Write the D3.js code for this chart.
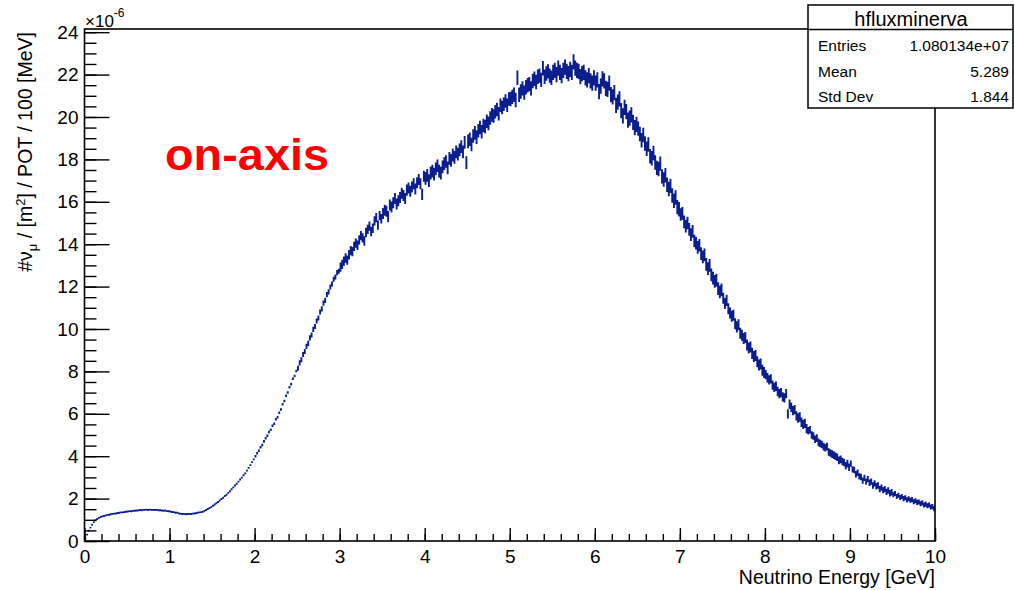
<!DOCTYPE html>
<html><head><meta charset="utf-8">
<script src="https://cdn.jsdelivr.net/npm/d3@7"></script>
<style>
body{margin:0;background:#fff;}
svg{display:block;font-family:"Liberation Sans",Arial,Helvetica,sans-serif;}
</style>
</head><body>
<svg id="chart" width="1015" height="590"></svg>
<script>
// ---- data ----
const xDomain = [0, 10];          // Neutrino energy [GeV]
const yDomain = [0, 24.15];       // x 1e-6
const binWidth = 0.02;            // GeV per bin (500 bins)
const fluxValues = [
// 0-1 GeV
0.12,0.30,0.48,0.63,0.77, 0.89,0.98,1.04,1.09,1.13, 1.16,1.18,1.21,1.23,1.24, 1.26,1.28,1.29,1.30,1.32, 1.33,1.35,1.35,1.37,1.38,
1.39,1.41,1.40,1.42,1.43, 1.44,1.44,1.46,1.45,1.47, 1.47,1.48,1.46,1.48,1.47, 1.47,1.46,1.47,1.45,1.45, 1.44,1.43,1.44,1.41,1.40,
// 1-2 GeV
1.39,1.37,1.36,1.33,1.34, 1.30,1.29,1.27,1.28,1.26, 1.27,1.28,1.27,1.29,1.30, 1.31,1.33,1.35,1.36,1.38, 1.42,1.46,1.51,1.55,1.60,
1.66,1.72,1.78,1.84,1.91, 1.98,2.04,2.12,2.18,2.27, 2.35,2.44,2.53,2.62,2.70, 2.80,2.90,2.99,3.10,3.19, 3.32,3.45,3.58,3.72,3.85,
// 2-3 GeV
4.00,4.14,4.26,4.42,4.53, 4.70,4.85,4.96,5.14,5.25, 5.44,5.53,5.74,5.84,6.05, 6.20,6.45,6.60,6.85,7.00, 7.25,7.40,7.65,7.78,8.02,
8.15,8.40,8.55,8.80,8.94, 9.18,9.32,9.58,9.72,9.98, 10.12,10.38,10.52,10.80,10.95, 11.22,11.35,11.62,11.75,11.98, 12.12,12.35,12.45,12.66,12.72,
// 3-4 GeV
12.92,13.05,13.20,13.35,13.25, 13.50,13.70,13.65,13.90,14.05, 13.95,14.20,14.40,14.30,14.15, 14.55,14.70,14.85,14.60,14.75, 15.10,15.25,14.90,15.35,15.20,
15.45,15.60,15.55,15.30,15.85, 15.75,15.95,16.15,15.90,16.05, 16.20,16.40,16.30,16.15,16.55, 16.65,16.50,16.70,16.85,16.60, 16.90,17.05,16.85,16.35,17.20,
// 4-5 GeV
17.10,17.25,17.00,17.35,17.45, 17.30,17.55,17.70,17.45,17.35, 17.65,17.80,17.90,17.60,18.05, 17.95,18.20,18.10,18.35,18.25, 18.45,18.60,18.35,18.80,17.85,
18.85,18.95,18.70,19.10,19.25, 19.05,19.35,19.50,19.30,19.60, 19.55,19.80,19.70,19.95,20.10, 20.05,20.25,20.35,20.15,20.55, 20.45,20.60,20.75,20.55,20.85,
// 5-6 GeV
20.85,20.95,21.05,20.80,21.85, 21.05,21.20,21.35,21.15,21.40, 21.50,21.55,21.35,21.70,21.80, 21.65,21.90,21.95,21.75,22.30, 21.90,22.05,22.15,21.95,21.85,
22.10,22.20,22.00,22.30,22.10, 21.95,22.20,22.35,22.15,22.05, 22.25,22.10,22.60,22.30,22.20, 22.15,21.90,22.05,22.10,21.85, 21.75,21.95,21.70,21.60,21.85,
// 6-7 GeV
21.60,21.75,21.20,21.45,21.80, 21.70,21.35,21.30,21.60,21.05, 20.95,21.15,20.55,20.70,20.85, 20.30,20.05,20.45,20.25,19.85, 19.95,20.10,19.75,19.50,19.65,
19.45,19.20,18.90,19.15,18.75, 18.50,18.70,18.15,18.05,18.30, 17.85,17.60,17.55,17.80,17.20, 17.05,17.25,16.80,16.60,16.75, 16.30,16.05,16.20,15.75,15.65,
// 7-8 GeV
15.40,15.45,15.05,14.85,15.00, 14.70,14.45,14.60,14.15,14.05, 13.85,13.95,13.55,13.40,13.50, 13.05,12.85,13.00,12.55,12.40, 12.25,12.30,11.90,11.75,11.85,
11.45,11.20,11.35,10.95,10.75, 10.60,10.65,10.25,10.10,10.20, 9.80,9.70,9.55,9.60,9.25, 9.10,9.15,8.85,8.70,8.75, 8.45,8.30,8.35,8.05,7.95,
// 8-9 GeV
7.85,7.70,7.60,7.65,7.35, 7.25,7.30,7.05,6.95,7.00, 6.80,6.75,6.95,6.00,6.45, 6.30,6.15,6.20,5.90,5.80, 5.85,5.60,5.50,5.55,5.30,
5.20,5.25,5.00,4.95,4.80, 4.85,4.65,4.60,4.55,4.45, 4.40,4.45,4.20,4.15,4.10, 4.05,4.00,3.95,3.80,3.85, 3.75,3.70,3.55,3.65,3.48,
// 9-10 GeV
3.65,3.38,3.35,3.15,3.22, 3.05,3.02,2.85,2.98,2.80, 2.92,2.75,2.80,2.62,2.72, 2.58,2.62,2.45,2.52,2.40, 2.45,2.32,2.38,2.25,2.30,
2.18,2.24,2.10,2.16,2.05, 2.10,2.00,2.04,1.94,1.99, 1.92,1.95,1.85,1.90,1.82, 1.84,1.76,1.80,1.70,1.74, 1.66,1.70,1.60,1.62,1.52
];
// half-length of the error bars, one value per 0.5 GeV slice
const errorSliceWidth = 0.5;
const errorHalf = [0.02,0.02,0.03,0.04,0.06,0.12,0.22,0.26,0.30,0.32,0.34,0.36,0.36,0.34,0.30,0.26,0.22,0.18,0.15,0.12];

const xMajorTicks = [0,1,2,3,4,5,6,7,8,9,10];
const xTickLabels = ["0","1","2","3","4","5","6","7","8","9","10"];
const yMajorTicks = [0,2,4,6,8,10,12,14,16,18,20,22,24];
const yTickLabels = ["0","2","4","6","8","10","12","14","16","18","20","22","24"];
const statsTitle = "hfluxminerva";
const statsNames = ["Entries","Mean","Std Dev"];
const statsValues = ["1.080134e+07","5.289","1.844"];

// ---- drawing ----
const svg = d3.select("#chart");
const x = d3.scaleLinear().domain(xDomain).range([84.5, 935]);
const y = d3.scaleLinear().domain(yDomain).range([541, 29]);
const dataColor = "#0b1e8e";

// histogram with error bars
let p = "";
fluxValues.forEach((v, i) => {
  const lo = i * binWidth, hi = (i + 1) * binWidth, c = lo + binWidth / 2;
  const e = errorHalf[Math.min(errorHalf.length - 1, Math.floor(c / errorSliceWidth))];
  p += `M${x(lo)},${y(v)}H${x(hi)}M${x(c)},${y(v + e)}V${y(Math.max(0, v - e))}`;
});
svg.append("path").attr("d", p).attr("fill", "none")
  .attr("stroke", dataColor).attr("stroke-width", 1.9);

// axes
const xMinor = d3.range(0, 10.0001, 0.2);
const yMinor = d3.range(0, 24.0001, 0.5);
const styleAxis = g => {
  g.select(".domain").remove();
  g.selectAll("line").attr("stroke", "#000").attr("stroke-width", 1.4);
  g.selectAll("text").attr("fill", "#000").style("font-size", "19px")
    .style("font-family", '"Liberation Sans", Arial, sans-serif');
};
svg.append("g").attr("transform", "translate(0,541)")
  .call(d3.axisBottom(x).tickValues(xMinor).tickSize(-7).tickFormat(""))
  .call(styleAxis);
svg.append("g").attr("transform", "translate(0,541)")
  .call(d3.axisBottom(x).tickValues(xMajorTicks).tickSize(-13).tickPadding(9)
    .tickFormat((d, i) => xTickLabels[i]))
  .call(styleAxis);
svg.append("g").attr("transform", "translate(84.5,0)")
  .call(d3.axisLeft(y).tickValues(yMinor).tickSize(-12).tickFormat(""))
  .call(styleAxis);
svg.append("g").attr("transform", "translate(84.5,0)")
  .call(d3.axisLeft(y).tickValues(yMajorTicks).tickSize(-25).tickPadding(6)
    .tickFormat((d, i) => yTickLabels[i]))
  .call(styleAxis);

// frame
svg.append("rect").attr("x", x(0)).attr("y", y(yDomain[1]))
  .attr("width", x(10) - x(0)).attr("height", y(0) - y(yDomain[1]))
  .attr("fill", "none").attr("stroke", "#000").attr("stroke-width", 1.6);

// exponent label
const ex = svg.append("text").attr("x", 85).attr("y", 27).attr("fill", "#000").style("font-size", "17px");
ex.append("tspan").text("\u00d710");
ex.append("tspan").attr("dy", -10).style("font-size", "12px").text("-6");

// y-axis title
const yt = svg.append("text").attr("transform", "translate(32,32) rotate(-90)")
  .attr("text-anchor", "end").attr("fill", "#000").style("font-size", "19.5px");
yt.append("tspan").text("#\u03bd");
yt.append("tspan").attr("dy", 5).style("font-size", "13px").text("\u03bc");
yt.append("tspan").attr("dy", -5).text(" / [m");
yt.append("tspan").attr("dy", -7).style("font-size", "13px").text("2");
yt.append("tspan").attr("dy", 7).text("] / POT / 100 [MeV]");

// x-axis title
svg.append("text").attr("x", 935).attr("y", 584).attr("text-anchor", "end")
  .attr("fill", "#000").style("font-size", "19.5px").text("Neutrino Energy [GeV]");

// on-axis label
svg.append("text").attr("x", 165).attr("y", 170).attr("fill", "#ff0000")
  .style("font-size", "44px").style("font-weight", "bold")
  .attr("textLength", 164).attr("lengthAdjust", "spacingAndGlyphs").text("on-axis");

// stats box
const sb = svg.append("g");
sb.append("rect").attr("x", 808).attr("y", 5).attr("width", 205).attr("height", 103)
  .attr("fill", "#fff").attr("stroke", "#000").attr("stroke-width", 1.5);
sb.append("line").attr("x1", 808).attr("x2", 1013).attr("y1", 29.5).attr("y2", 29.5)
  .attr("stroke", "#000").attr("stroke-width", 1.5);
sb.append("text").attr("x", 911).attr("y", 26).attr("text-anchor", "middle")
  .style("font-size", "20px").attr("fill", "#000").text(statsTitle);
const rowY = [51, 77, 102];
statsNames.forEach((n, i) => {
  sb.append("text").attr("x", 818).attr("y", rowY[i]).style("font-size", "15.5px").attr("fill", "#000").text(n);
  sb.append("text").attr("x", 1009).attr("y", rowY[i]).attr("text-anchor", "end")
    .style("font-size", "15.5px").attr("fill", "#000").text(statsValues[i]);
});
</script>
</body></html>
